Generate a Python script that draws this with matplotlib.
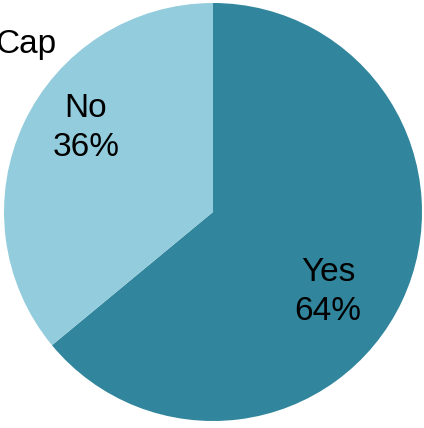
import matplotlib.pyplot as plt

labels = ["Yes", "No"]
shares = [64, 36]
colors = ["#31859C", "#93CDDD"]

plt.rcParams['font.family'] = ['Liberation Sans', 'DejaVu Sans']

fig = plt.figure(figsize=(4.24, 4.28), dpi=100)
ax = fig.add_axes([0, 0, 1, 1])

cx, cy, r = 213, 216, 209
wedges, _ = ax.pie(shares, colors=colors, startangle=90, counterclock=False,
                   center=(cx, cy), radius=r, frame=True,
                   wedgeprops=dict(linewidth=0))
ax.set_xlim(0, 424)
ax.set_ylim(0, 428)
ax.set_aspect('equal')
ax.axis('off')

# label positions, relative to the centre
pos = {"Yes": (115, -80), "No": (-127, 84)}
for lab, val in zip(labels, shares):
    dx, dy = pos[lab]
    ax.text(cx + dx, cy + dy, f"{lab}\n{val}%", ha='center', va='center',
            fontsize=24, linespacing=1.3, color='black')

# title runs off the left edge
ax.text(56, 375, "Cap", ha='right', va='baseline', fontsize=24, color='black')

fig.savefig("out.png", dpi=100)
